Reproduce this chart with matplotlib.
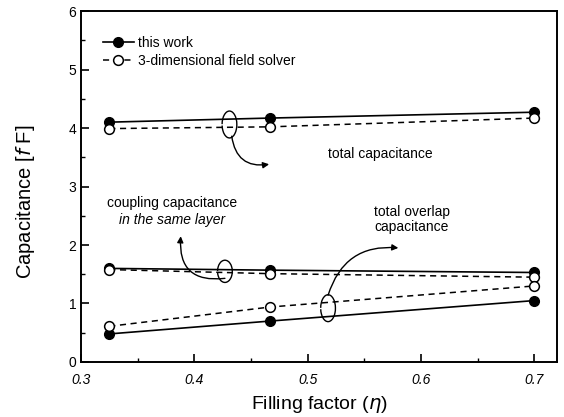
import matplotlib
matplotlib.use("Agg")
import matplotlib.pyplot as plt
from matplotlib.patches import Arc, FancyArrowPatch
from matplotlib.ticker import MultipleLocator

plt.rcParams['font.family'] = ['Liberation Sans', 'DejaVu Sans']

eta = [0.325, 0.467, 0.70]

total_model = [4.10, 4.17, 4.27]
total_solver = [3.99, 4.02, 4.17]
coupling_model = [1.60, 1.57, 1.53]
coupling_solver = [1.58, 1.51, 1.45]
overlap_model = [0.48, 0.70, 1.05]
overlap_solver = [0.61, 0.94, 1.30]

fig = plt.figure(figsize=(5.64, 4.17), dpi=100)
ax = fig.add_axes([0.1436, 0.1319, 0.8440, 0.8417])

solid = dict(color='black', lw=1.2, marker='o', markersize=7,
             markerfacecolor='black', markeredgecolor='black')
dashed = dict(color='black', lw=1.1, ls=(0, (4, 3)), marker='o', markersize=7,
              markerfacecolor='white', markeredgecolor='black', markeredgewidth=1.1)

ax.plot(eta, total_model, label='this work', **solid)
ax.plot(eta, total_solver, label='3-dimensional field solver', **dashed)
ax.plot(eta, coupling_model, **solid)
ax.plot(eta, coupling_solver, **dashed)
ax.plot(eta, overlap_model, **solid)
ax.plot(eta, overlap_solver, **dashed)

ax.set_xlim(0.3, 0.72)
ax.set_ylim(0, 6)
ax.xaxis.set_minor_locator(MultipleLocator(0.05))
ax.yaxis.set_major_locator(MultipleLocator(1))
ax.yaxis.set_minor_locator(MultipleLocator(0.5))
ax.set_xticks([0.3, 0.4, 0.5, 0.6, 0.7])
ax.set_xticklabels(['0.3', '0.4', '0.5', '0.6', '0.7'], style='italic')
ax.tick_params(which='major', direction='in', length=6, width=1.2, labelsize=10)
ax.tick_params(which='minor', direction='in', length=3, width=1.0)
ax.tick_params(axis='x', pad=8)
for s in ax.spines.values():
    s.set_linewidth(1.4)

ax.set_xlabel(r'Filling factor ($\eta$)', fontsize=14, labelpad=5)
ax.set_ylabel(r'Capacitance [$f$ F]', fontsize=14.5)
ax.yaxis.set_label_coords(-0.093, 0.455)

ax.legend(loc='upper left', bbox_to_anchor=(0.02, 0.965), frameon=False,
          fontsize=10, handlelength=2.2, handletextpad=0.3, labelspacing=0.3)

# group labels
ax.text(0.564, 3.55, 'total capacitance', fontsize=10, ha='center', va='center')
ax.text(0.38, 2.72, 'coupling capacitance', fontsize=10, ha='center', va='center')
ax.text(0.38, 2.42, 'in the same layer', fontsize=10, ha='center', va='center',
        style='italic')
ax.text(0.592, 2.56, 'total overlap', fontsize=10, ha='center', va='center')
ax.text(0.592, 2.30, 'capacitance', fontsize=10, ha='center', va='center')

# open curls around line pairs with curved pointers to their labels
for cx, cy, h in [(0.431, 4.06, 0.46), (0.427, 1.55, 0.38), (0.518, 0.92, 0.46)]:
    ax.add_patch(Arc((cx, cy), 0.013, h, theta1=-110, theta2=140,
                     lw=1.0, color='black'))

arrows = [((0.433, 3.86), (0.466, 3.38), 'arc3,rad=0.5'),
          ((0.427, 1.43), (0.388, 2.15), 'arc3,rad=-0.6'),
          ((0.518, 1.14), (0.580, 1.95), 'arc3,rad=-0.4')]
for start, end, cs in arrows:
    ax.add_patch(FancyArrowPatch(start, end, connectionstyle=cs,
                                 arrowstyle='-|>', mutation_scale=9,
                                 lw=1.0, color='black', shrinkA=0, shrinkB=0))

fig.savefig('out.png', dpi=100)
